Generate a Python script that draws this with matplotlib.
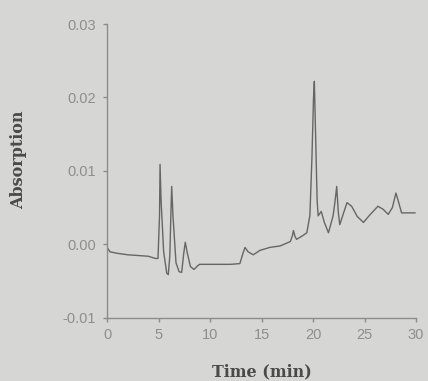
import matplotlib
matplotlib.use("Agg")
import matplotlib.pyplot as plt

time_min = [0.0, 0.3, 1.0, 2.0, 3.0, 4.0, 4.7, 4.95, 5.1, 5.15, 5.25, 5.5, 5.8, 5.95, 6.1, 6.22, 6.28, 6.4, 6.7, 7.0,
            7.25, 7.45, 7.6, 7.8, 8.1, 8.45, 8.8, 9.0, 10.0, 11.0, 12.0, 12.9, 13.2, 13.4, 13.7, 14.2, 14.85,
            15.8, 16.8, 17.8, 18.0, 18.1, 18.25, 18.4, 19.0, 19.4, 19.7, 19.9, 20.05, 20.13, 20.25, 20.4, 20.5,
            20.8, 21.1, 21.5, 21.95, 22.15, 22.3, 22.45, 22.6, 22.9, 23.3, 23.75, 24.3, 24.9, 25.5, 26.3, 26.8,
            27.3, 27.7, 28.05, 28.3, 28.6, 29.2, 29.9]
absorption = [-0.0004, -0.0010, -0.0012, -0.0014, -0.0015, -0.0016, -0.0019, -0.0019, 0.0040, 0.0109, 0.0060,
              -0.0010, -0.0039, -0.0041, -0.0015, 0.0050, 0.0079, 0.0040, -0.0025, -0.0037, -0.0038, -0.0012,
              0.0003, -0.0012, -0.0030, -0.0034, -0.0029, -0.0027, -0.0027, -0.0027, -0.0027, -0.0026, -0.0012,
              -0.0004, -0.0010, -0.0014, -0.0008, -0.0004, -0.0002, 0.0004, 0.0012, 0.0019, 0.0011, 0.0007,
              0.0012, 0.0016, 0.0040, 0.0120, 0.0200, 0.0222, 0.0150, 0.0060, 0.0039, 0.0045, 0.0030, 0.0016,
              0.0039, 0.0060, 0.0079, 0.0045, 0.0027, 0.0040, 0.0057, 0.0052, 0.0038, 0.0030, 0.0040, 0.0052,
              0.0048, 0.0041, 0.0050, 0.0070, 0.0058, 0.0043, 0.0043, 0.0043]

x_ticks = [0, 5, 10, 15, 20, 25, 30]
y_ticks = [-0.01, 0.00, 0.01, 0.02, 0.03]
y_tick_labels = ["-0.01", "0.00", "0.01", "0.02", "0.03"]

bg = "#d6d6d4"
axis_col = "#8c8c8c"
text_col = "#8e8e8e"

fig = plt.figure(figsize=(4.28, 3.81), dpi=100, facecolor=bg)
ax = fig.add_axes([0.25, 0.1654, 0.722, 0.7716], facecolor=bg)
ax.plot(time_min, absorption, color="#666666", lw=1.0)
ax.set_xlim(0, 30)
ax.set_ylim(-0.01, 0.03)
ax.set_xticks(x_ticks)
ax.set_yticks(y_ticks)
ax.set_yticklabels(y_tick_labels)
for s in ["top", "right"]:
    ax.spines[s].set_visible(False)
for s in ["left", "bottom"]:
    ax.spines[s].set_color(axis_col)
    ax.spines[s].set_linewidth(1.0)
ax.tick_params(axis="both", colors=axis_col, labelcolor=text_col, length=3, width=1, labelsize=10.5)
ax.tick_params(axis="y", pad=5)
ax.tick_params(axis="x", pad=4)
for lab in ax.get_xticklabels() + ax.get_yticklabels():
    lab.set_family("Liberation Sans")
ax.set_xlabel("Time (min)", family="DejaVu Serif", fontweight="bold", fontsize=11.5, color="#4a4a4a")
ax.set_ylabel("Absorption", family="DejaVu Serif", fontweight="bold", fontsize=11.5, color="#4a4a4a")
ax.xaxis.set_label_coords(0.50, -0.153)
ax.yaxis.set_label_coords(-0.258, 0.537)
fig.savefig("out.png", dpi=100, facecolor=bg)
